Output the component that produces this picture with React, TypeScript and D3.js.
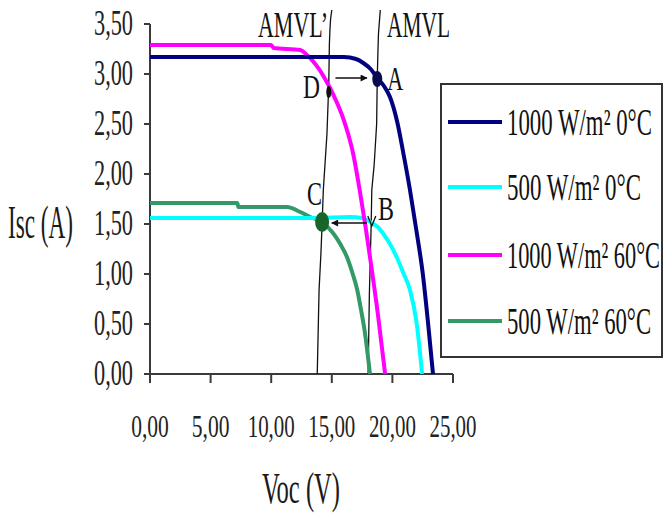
import React, { useLayoutEffect, useRef, useState } from "react";
import * as d3 from "d3";

// ---- data ----
const xTicks = [0, 5, 10, 15, 20, 25];
const yTicks = [0, 0.5, 1, 1.5, 2, 2.5, 3, 3.5];

const seriesNames = ["1000 W/m² 0°C", "500 W/m² 0°C", "1000 W/m² 60°C", "500 W/m² 60°C"];
const seriesColors = ["#000080", "#00FFFF", "#FF00FF", "#339966"];

const v1000_0 = [0, 16.0, 17.0, 17.6, 18.2, 18.7, 19.3, 19.8, 20.4, 20.9, 21.45, 22.0, 22.5, 22.95, 23.35];
const i1000_0 = [3.17, 3.17, 3.15, 3.11, 3.05, 2.97, 2.88, 2.77, 2.52, 2.21, 1.84, 1.42, 1.01, 0.5, 0];

const v500_0 = [0, 13.5, 16.5, 17.5, 18.3, 18.8, 19.2, 19.8, 20.35, 20.9, 21.45, 22.0, 22.45];
const i500_0 = [1.56, 1.56, 1.57, 1.56, 1.51, 1.47, 1.41, 1.3, 1.17, 1.01, 0.84, 0.51, 0];

const v1000_60 = [0, 10.0, 10.2, 12.4, 12.95, 13.5, 14.0, 14.4, 14.85, 15.4, 15.9, 16.35, 16.75, 17.3, 17.75, 18.15, 18.8, 19.4];
const i1000_60 = [3.29, 3.29, 3.26, 3.24, 3.19, 3.12, 3.04, 2.96, 2.86, 2.72, 2.57, 2.4, 2.21, 1.84, 1.5, 1.17, 0.6, 0];

const v500_60 = [0, 7.2, 7.3, 11.3, 12.4, 13.2, 14.2, 15.1, 15.7, 16.25, 16.7, 17.1, 17.4, 17.7, 18.15];
const i500_60 = [1.71, 1.71, 1.67, 1.67, 1.62, 1.57, 1.52, 1.41, 1.3, 1.17, 1.01, 0.84, 0.65, 0.44, 0];

// AMVL lines
const amvlPrimeV = [15.0, 14.9, 14.85, 14.8, 14.75, 14.6, 14.3, 14.2, 14.1, 13.95, 13.8];
const amvlPrimeI = [3.64, 3.55, 3.45, 3.3, 2.9, 2.4, 1.84, 1.5, 1.2, 0.84, 0];
const amvlV = [19.0, 18.85, 18.8, 18.75, 18.7, 18.5, 18.3, 18.25, 18.1, 18.0];
const amvlI = [3.64, 3.4, 3.2, 2.95, 2.5, 2.1, 1.84, 1.5, 0.8, 0];

// arrows [vFrom, vTo, I]
const arrowDA = [15.3, 17.9, 2.96];
const arrowBC = [17.9, 15.0, 1.51];

// points
const pointNames = ["A", "D", "C", "B"];
const pointV = [18.75, 14.75, 14.2, 18.3];
const pointI = [2.95, 2.82, 1.52, 1.5];

const FONT = "'Liberation Serif', 'Times New Roman', serif";

type FitProps = {
  x: number;
  y: number;
  width: number;
  fontSize: number;
  anchor?: "start" | "middle" | "end";
  fill?: string;
  children: React.ReactNode;
};

function FitText({ x, y, width, fontSize, anchor = "start", fill = "#111", children }: FitProps) {
  const ref = useRef<SVGTextElement>(null);
  const [s, setS] = useState(0.6);
  useLayoutEffect(() => {
    if (ref.current) {
      const w = ref.current.getComputedTextLength();
      if (w > 0) setS(width / w);
    }
  }, [width, children]);
  const x0 = anchor === "end" ? x - width : anchor === "middle" ? x - width / 2 : x;
  return (
    <text ref={ref} transform={`translate(${x0},${y}) scale(${s},1)`} fontFamily={FONT} fontSize={fontSize} fill={fill}>
      {children}
    </text>
  );
}

export default function App() {
  const x = d3.scaleLinear().domain([0, 25]).range([150, 453]);
  const y = d3.scaleLinear().domain([0, 3.5]).range([374, 24]);

  const series = [
    [v1000_0, i1000_0],
    [v500_0, i500_0],
    [v1000_60, i1000_60],
    [v500_60, i500_60],
  ];
  const line = d3
    .line<[number, number]>()
    .x((d) => x(d[0]))
    .y((d) => y(d[1]))
    .curve(d3.curveMonotoneX);
  const straight = d3
    .line<[number, number]>()
    .x((d) => x(d[0]))
    .y((d) => y(d[1]));
  const zip = (a: number[], b: number[]) => a.map((v, i) => [v, b[i]] as [number, number]);
  const fmt = (v: number) => d3.format(".2f")(v).replace(".", ",");

  const legendY = [122, 187, 255, 321];
  const legendW = [145, 134, 153, 144];
  const order = [3, 1, 2, 0];

  return (
    <svg width={664} height={513} style={{ position: "absolute", left: 0, top: 0, background: "#fff" }}>
      <defs>
        <marker id="ah" viewBox="0 0 10 10" refX="9" refY="5" markerWidth="8" markerHeight="7" orient="auto" markerUnits="userSpaceOnUse">
          <path d="M0,0 L10,5 L0,10 z" fill="#111" />
        </marker>
      </defs>
      <rect width={664} height={513} fill="#fff" />

      {/* axes */}
      <line x1={x(0)} x2={x(25)} y1={y(0)} y2={y(0)} stroke="#3a3a3a" strokeWidth={2} />
      <line x1={x(0)} x2={x(0)} y1={y(0)} y2={y(3.5)} stroke="#3a3a3a" strokeWidth={2} />
      {xTicks.map((t) => (
        <g key={"xt" + t}>
          <line x1={x(t)} x2={x(t)} y1={y(0)} y2={y(0) + 9} stroke="#3a3a3a" strokeWidth={2} />
          <FitText x={x(t)} y={437} width={fmt(t).length * 9.4} fontSize={32} anchor="middle" fill="#222">
            {fmt(t)}
          </FitText>
        </g>
      ))}
      {yTicks.map((t) => (
        <g key={"yt" + t}>
          <line x1={x(0) - 6} x2={x(0)} y1={y(t)} y2={y(t)} stroke="#3a3a3a" strokeWidth={2} />
          <FitText x={133} y={y(t) + 11} width={39} fontSize={35} anchor="end" fill="#222">
            {fmt(t)}
          </FitText>
        </g>
      ))}

      {/* axis titles */}
      <FitText x={8} y={238} width={65} fontSize={46} fill="#1a1a1a">Isc (A)</FitText>
      <FitText x={262} y={503} width={78} fontSize={44} fill="#1a1a1a">Voc (V)</FitText>

      {/* AMVL lines */}
      <path d={straight(zip(amvlPrimeV, amvlPrimeI)) || ""} fill="none" stroke="#111" strokeWidth={1.3} />
      <path d={straight(zip(amvlV, amvlI)) || ""} fill="none" stroke="#111" strokeWidth={1.3} />

      {/* curves */}
      {order.map((k) => (
        <path
          key={"s" + k}
          d={line(zip(series[k][0], series[k][1])) || ""}
          fill="none"
          stroke={seriesColors[k]}
          strokeWidth={4}
          strokeLinejoin="round"
        />
      ))}

      {/* arrows */}
      <line x1={x(arrowDA[0])} x2={x(arrowDA[1])} y1={y(arrowDA[2])} y2={y(arrowDA[2])} stroke="#111" strokeWidth={1.5} markerEnd="url(#ah)" />
      <line x1={x(arrowBC[0])} x2={x(arrowBC[1])} y1={y(arrowBC[2])} y2={y(arrowBC[2])} stroke="#111" strokeWidth={1.5} markerEnd="url(#ah)" />

      {/* points */}
      <ellipse cx={x(pointV[0])} cy={y(pointI[0])} rx={5} ry={8} fill="#0a0a50" />
      <ellipse cx={x(pointV[1])} cy={y(pointI[1])} rx={2.5} ry={6} fill="#111" />
      <ellipse cx={x(pointV[2])} cy={y(pointI[2])} rx={7} ry={10} fill="#17652a" />
      <path
        d={`M${x(pointV[3]) - 4},${y(pointI[3]) - 8} L${x(pointV[3])},${y(pointI[3]) + 2} L${x(pointV[3]) + 4},${y(pointI[3]) - 8}`}
        fill="none"
        stroke="#111"
        strokeWidth={1.3}
      />

      {/* point labels */}
      <FitText x={x(pointV[0]) + 10} y={90} width={16} fontSize={33}>{pointNames[0]}</FitText>
      <FitText x={303} y={98} width={17} fontSize={33}>{pointNames[1]}</FitText>
      <FitText x={307} y={205} width={15} fontSize={33}>{pointNames[2]}</FitText>
      <FitText x={378} y={220} width={16} fontSize={33}>{pointNames[3]}</FitText>

      <FitText x={258} y={37} width={70} fontSize={35}>AMVL’</FitText>
      <FitText x={387} y={37} width={63} fontSize={35}>AMVL</FitText>

      {/* legend */}
      <rect x={441} y={84} width={221} height={273} fill="#fff" stroke="#333" strokeWidth={2} />
      {seriesNames.map((n, k) => (
        <g key={"lg" + k}>
          <line x1={448} x2={502} y1={legendY[k]} y2={legendY[k]} stroke={seriesColors[k]} strokeWidth={4} />
          <FitText x={507} y={legendY[k] + 13} width={legendW[k]} fontSize={37}>
            {n}
          </FitText>
        </g>
      ))}
    </svg>
  );
}
